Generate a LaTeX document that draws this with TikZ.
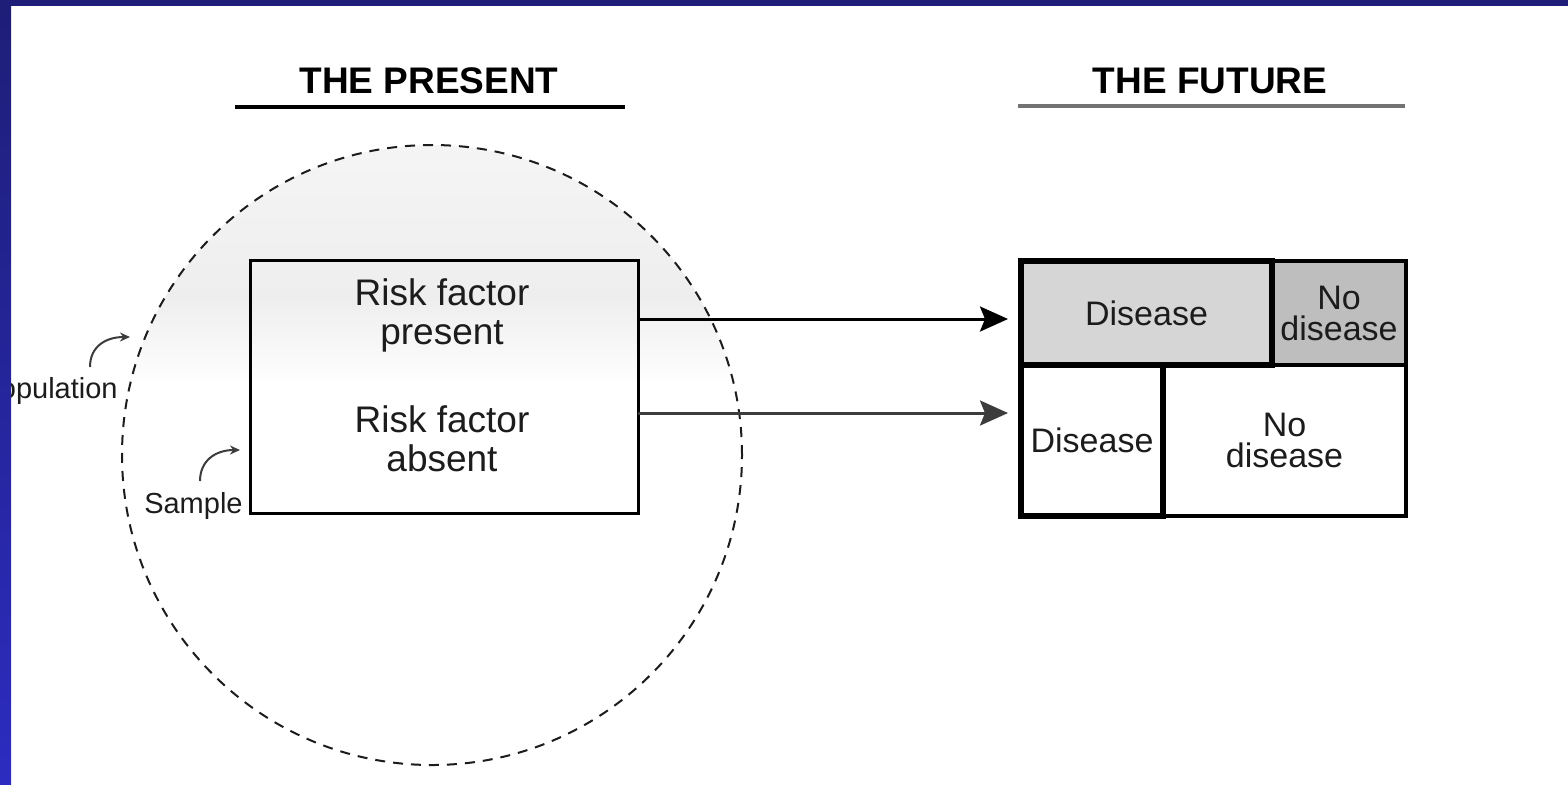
\documentclass[tikz,border=0pt]{standalone}
\usepackage{fontspec}
\setmainfont{Liberation Sans}
\usetikzlibrary{arrows.meta}
\definecolor{navy}{RGB}{30,30,120}
\definecolor{navyb}{RGB}{44,44,192}
\definecolor{ink}{RGB}{28,28,28}
\definecolor{speck}{RGB}{238,238,238}
\definecolor{grayA}{RGB}{214,214,214}
\definecolor{grayB}{RGB}{190,190,190}
\definecolor{ulgray}{RGB}{115,115,115}
\definecolor{arrgray}{RGB}{60,60,60}
\tikzset{
  bigtxt/.style={font=\fontsize{18.5}{19.5}\selectfont, text=ink, align=center, inner sep=0pt},
  titletxt/.style={font=\bfseries\fontsize{18.5}{20}\selectfont, inner sep=0pt},
  cell/.style={draw=black, inner sep=0pt, outer sep=0pt, font=\fontsize{17}{15.5}\selectfont, text=ink, align=center},
  thinb/.style={line width=1.75pt},
  thickb/.style={line width=3pt},
  smalltxt/.style={font=\fontsize{14.5}{16}\selectfont, text=ink, inner sep=0pt},
  mainarrow/.style={line width=1.5pt, shorten >=6.5pt, -{Stealth[length=14pt,width=12.5pt,inset=2.5pt]}},
  notearrow/.style={line width=1pt, draw=arrgray, -{Stealth[length=5pt,width=4.5pt]}},
}
\begin{document}
\begin{tikzpicture}[x=0.5pt,y=-0.5pt]
\useasboundingbox (0,0) rectangle (1568,784);
\clip (0,0) rectangle (1568,784);
\fill[white] (0,0) rectangle (1568,784);
% light stippled area inside the top of the circle, fading downwards
\begin{scope}
  \clip (432,455) circle [radius=155pt];
  \shade[top color=speck!60, bottom color=speck] (0,140) rectangle (1568,300);
  \shade[top color=speck, bottom color=white] (0,299) rectangle (1568,385);
\end{scope}
% population circle
\draw[dash pattern=on 5pt off 4pt, line width=1pt, draw=ink] (432,455) circle [radius=155pt];
% sample box
\node[draw, line width=1.5pt, minimum width=194pt, minimum height=126.5pt, inner sep=0pt, outer sep=0pt] (rbox) at (444,386.5) {};
\node[bigtxt] (pres) at (442,315) {Risk factor\\present};
\node[bigtxt] (abs) at (442,439) {Risk factor\\absent};
% titles
\node[titletxt, anchor=base] (tpres) at (429,93) {THE PRESENT};
\draw[line width=2pt] (235,107) -- (625,107);
\node[titletxt, anchor=base] (tfut) at (1210,93) {THE FUTURE};
\draw[line width=2pt, ulgray] (1018,106) -- (1405,106);
% outcome cells
\node[cell, thinb, fill=grayB, minimum width=67pt, minimum height=52pt] (nodis1) at (1339,313) {No\\disease};
\node[cell, thinb, fill=white, minimum width=121.5pt, minimum height=75.5pt] (nodis2) at (1284.5,440.5) {No\\disease};
\node[cell, thickb, fill=grayA, minimum width=125.5pt, minimum height=52pt] (dis1) at (1146.5,313) {Disease};
\node[cell, thickb, fill=white, minimum width=71pt, minimum height=75.5pt] (dis2) at (1092,440.5) {Disease};
% arrows
\coordinate (row1) at (0,319);
\coordinate (row2) at (0,413);
\draw[mainarrow] (rbox.east |- row1) -- (dis1.west |- row1);
\draw[mainarrow, draw=arrgray] (rbox.east |- row2) -- (dis2.west |- row2);
% labels with curved pointers
\node[smalltxt, anchor=base east] (pop) at (118,398) {Population};
\coordinate (popA) at (90,367);
\coordinate (popB) at (130,337);
\draw[notearrow] (popA) .. controls (90,347) and (105,337) .. (popB);
\node[smalltxt, anchor=base east] (samp) at (243,513) {Sample};
\coordinate (sampA) at (200,481);
\coordinate (sampB) at (240,450);
\draw[notearrow] (sampA) .. controls (200,461) and (215,450) .. (sampB);
% blue frame
\shade[top color=navy, bottom color=navyb] (0,0) rectangle (11,784);
\fill[navy] (0,0) rectangle (1568,6);
\end{tikzpicture}
\end{document}
